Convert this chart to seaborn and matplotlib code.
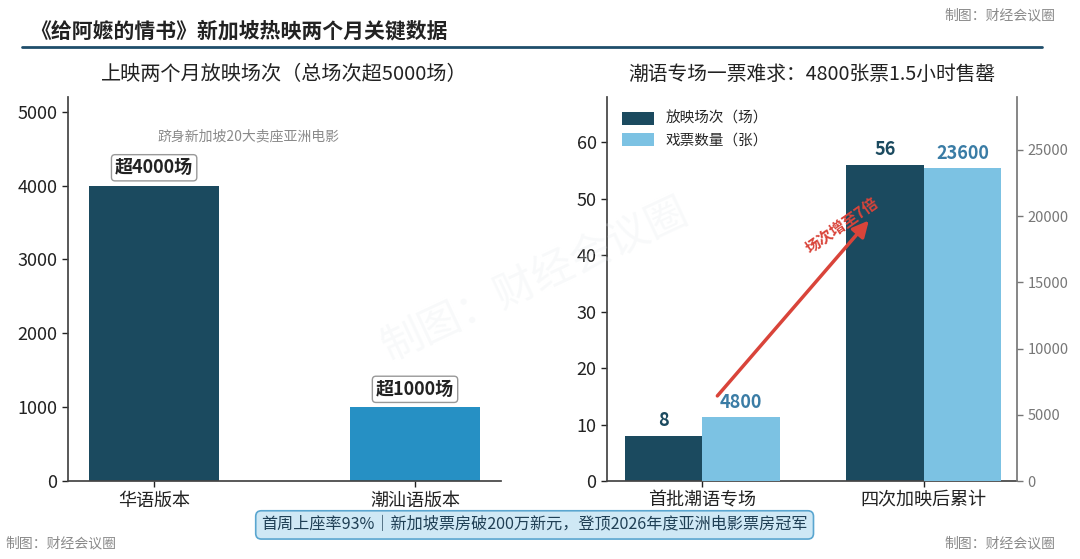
import numpy as np
import pandas as pd
import matplotlib
matplotlib.use('Agg')
import matplotlib.pyplot as plt
import seaborn as sns

# 数据
left_cats = ['华语版本', '潮汕语版本']
left_vals = [4000, 1000]
left_labels = ['超4000场', '超1000场']

right_cats = ['首批潮语专场', '四次加映后累计']
screenings = [8, 56]
tickets = [4800, 23600]

sns.set_theme(style='white')
plt.rcParams['font.family'] = ['Noto Sans CJK SC', 'DejaVu Sans']
plt.rcParams['axes.unicode_minus'] = False

DARK = '#1b4a5f'
MID = '#2690c4'
LIGHT = '#7cc2e3'
LBL2 = '#3a7ca5'
RED = '#d9443a'
GRAY = '#8a8a8a'

fig = plt.figure(figsize=(10.8, 5.59), dpi=100)

# 标题与横线
fig.text(0.028, 0.945, '《给阿嬷的情书》新加坡热映两个月关键数据', fontsize=15,
         fontweight='bold', color='#222222', va='center', ha='left')
fig.add_artist(plt.Line2D([0.02, 0.965], [0.916, 0.916], color='#1f4e6b', lw=2))
fig.text(0.977, 0.972, '制图：财经会议圈', fontsize=10, color=GRAY, ha='right', va='center')
fig.text(0.005, 0.028, '制图：财经会议圈', fontsize=10, color=GRAY, ha='left', va='center')
fig.text(0.977, 0.028, '制图：财经会议圈', fontsize=10, color=GRAY, ha='right', va='center')

# 左图
ax1 = fig.add_axes([0.063, 0.1395, 0.401, 0.687])
df_left = pd.DataFrame({'版本': left_cats, '场次': left_vals})
sns.barplot(data=df_left, x='版本', y='场次', hue='版本', palette=[DARK, MID],
            legend=False, width=0.5, saturation=1, linewidth=0, ax=ax1)
ax1.set_xlim(-0.33, 1.33)
ax1.set_ylim(0, 5200)
ax1.set_yticks([0, 1000, 2000, 3000, 4000, 5000])
ax1.set_xlabel('')
ax1.set_ylabel('')
ax1.tick_params(axis='both', labelsize=13, colors='#222222', length=4, width=1,
                left=True, bottom=True, direction='out')
for s in ['top', 'right']:
    ax1.spines[s].set_visible(False)
for s in ['left', 'bottom']:
    ax1.spines[s].set_color('#444444')
ax1.set_title('上映两个月放映场次（总场次超5000场）', fontsize=14.5, color='#222222', pad=12)
for i, (v, lab) in enumerate(zip(left_vals, left_labels)):
    ax1.annotate(lab, xy=(i, v), xytext=(0, 6), textcoords='offset points',
                 ha='center', va='bottom', fontsize=13, fontweight='bold', color='#222222',
                 bbox=dict(boxstyle='round,pad=0.2', fc='white', ec='#999999', lw=1))
ax1.text(0.36, 4660, '跻身新加坡20大卖座亚洲电影', fontsize=10, color=GRAY,
         ha='center', va='center')

# 右图
ax2 = fig.add_axes([0.562, 0.1395, 0.3796, 0.687])
ax3 = ax2.twinx()
pos = np.arange(len(right_cats))
bw = 0.35
sns.barplot(x=pos - bw / 2, y=screenings, native_scale=True, width=bw, color=DARK,
            saturation=1, linewidth=0, ax=ax2, label='放映场次（场）')
sns.barplot(x=pos + bw / 2, y=tickets, native_scale=True, width=bw, color=LIGHT,
            saturation=1, linewidth=0, ax=ax3, label='戏票数量（张）')
for a in (ax2, ax3):
    if a.get_legend() is not None:
        a.get_legend().remove()
ax2.set_xlim(-0.43, 1.42)
ax2.set_ylim(0, 68)
ax3.set_ylim(0, 29000)
ax2.set_yticks([0, 10, 20, 30, 40, 50, 60])
ax3.set_yticks([0, 5000, 10000, 15000, 20000, 25000])
ax2.set_xticks(pos)
ax2.set_xticklabels(right_cats)
for a in (ax2, ax3):
    a.set_xlabel('')
    a.set_ylabel('')
    a.spines['top'].set_visible(False)
ax2.spines['right'].set_visible(False)
ax2.spines['left'].set_color('#444444')
ax2.spines['bottom'].set_color('#444444')
ax3.spines['left'].set_visible(False)
ax3.spines['bottom'].set_visible(False)
ax3.spines['right'].set_color('#777777')
ax2.tick_params(axis='both', labelsize=13, colors='#222222', length=4, width=1,
                left=True, bottom=True, direction='out')
ax3.tick_params(axis='y', labelsize=10.5, colors='#777777', length=4, width=1,
                right=True, direction='out')
ax2.set_title('潮语专场一票难求：4800张票1.5小时售罄', fontsize=14.2, color='#222222', pad=12)

for i, v in enumerate(screenings):
    ax2.annotate(str(v), xy=(i - bw / 2, v), xytext=(0, 4), textcoords='offset points',
                 ha='center', va='bottom', fontsize=13, fontweight='bold', color=DARK)
for i, v in enumerate(tickets):
    ax3.annotate(str(v), xy=(i + bw / 2, v), xytext=(0, 4), textcoords='offset points',
                 ha='center', va='bottom', fontsize=13, fontweight='bold', color=LBL2)

# 箭头
ax3.set_zorder(ax2.get_zorder() + 1)
ax2.patch.set_visible(True)
ax3.patch.set_visible(False)
ax3.annotate('', xy=(0.76, 46.5 * 29000 / 68), xytext=(0.06, 14.7 * 29000 / 68),
             arrowprops=dict(arrowstyle='-|>,head_length=0.8,head_width=0.4',
                             color=RED, lw=2.5))
ax3.text(0.63, 45.3 * 29000 / 68, '场次增至7倍', rotation=35, fontsize=11,
         fontweight='bold', color=RED, ha='center', va='center')

# 图例
h1, l1 = ax2.get_legend_handles_labels()
h2, l2 = ax3.get_legend_handles_labels()
ax3.legend(h1 + h2, l1 + l2, loc='upper left', frameon=False, fontsize=10.5,
           handlelength=2.2, handleheight=1.0, borderaxespad=0.6)

# 水印
fig.text(0.495, 0.5, '制图：财经会议圈', fontsize=30, color='#e3e9ec', alpha=0.25,
         rotation=25, ha='center', va='center')

# 底部说明
fig.text(0.495, 0.061, '首周上座率93%｜新加坡票房破200万新元，登顶2026年度亚洲电影票房冠军',
         fontsize=11.6, color='#1f3f55', ha='center', va='center',
         bbox=dict(boxstyle='round,pad=0.35', fc='#cfe8f5', ec='#5aa6d0', lw=1.2))

fig.savefig('out.png', dpi=100)
